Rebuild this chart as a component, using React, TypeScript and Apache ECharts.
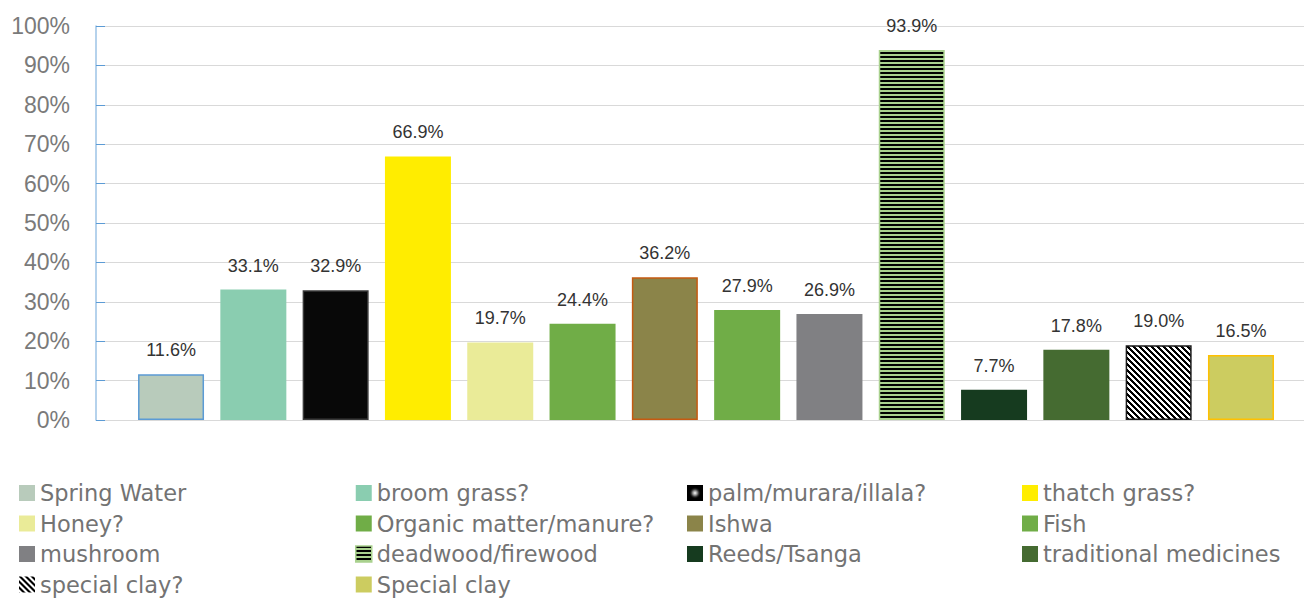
import React, { useEffect, useRef } from "react";
import * as echarts from "echarts";

const categories = [""];
const seriesNames = [
  "Spring Water",
  "broom grass?",
  "palm/murara/illala?",
  "thatch grass?",
  "Honey?",
  "Organic matter/manure?",
  "Ishwa",
  "Fish",
  "mushroom",
  "deadwood/firewood",
  "Reeds/Tsanga",
  "traditional medicines",
  "special clay?",
  "Special clay",
];
const seriesValues = [11.6, 33.1, 32.9, 66.9, 19.7, 24.4, 36.2, 27.9, 26.9, 93.9, 7.7, 17.8, 19.0, 16.5];
const fillColors = [
  "#B8CBBB", "#8ACDB0", "#080808", "#FFED00", "#EAEB98", "#70AD47", "#8B8449",
  "#70AD47", "#808083", "PATTERN_H", "#163B1F", "#456B31", "PATTERN_D", "#CCCC60",
];
const borderColors = [
  "#5B9BD5", null, "#3a3a3a", null, null, null, "#C55A11",
  null, null, "#A9D18E", null, null, "#1a1a1a", "#FFC000",
];
const yTicks = [0, 10, 20, 30, 40, 50, 60, 70, 80, 90, 100];
const legendColumns = [
  ["Spring Water", "Honey?", "mushroom", "special clay?"],
  ["broom grass?", "Organic matter/manure?", "deadwood/firewood", "Special clay"],
  ["palm/murara/illala?", "Ishwa", "Reeds/Tsanga"],
  ["thatch grass?", "Fish", "traditional medicines"],
];
const legendLefts = [19, 355, 687, 1022];

function makeHPattern(): HTMLCanvasElement {
  const c = document.createElement("canvas");
  c.width = 4;
  c.height = 4;
  const ctx = c.getContext("2d")!;
  ctx.fillStyle = "#A9D18E";
  ctx.fillRect(0, 0, 4, 4);
  ctx.fillStyle = "#000000";
  ctx.fillRect(0, 0, 4, 2);
  return c;
}

function makeDPattern(): HTMLCanvasElement {
  const n = 6;
  const c = document.createElement("canvas");
  c.width = n;
  c.height = n;
  const ctx = c.getContext("2d")!;
  ctx.fillStyle = "#ffffff";
  ctx.fillRect(0, 0, n, n);
  ctx.fillStyle = "#000000";
  for (let x = 0; x < n; x++) {
    for (let y = 0; y < n; y++) {
      if ((((x - y) % n) + n) % n < 3) ctx.fillRect(x, y, 1, 1);
    }
  }
  return c;
}

function makeGlowIcon(): string {
  const c = document.createElement("canvas");
  c.width = 32;
  c.height = 32;
  const ctx = c.getContext("2d")!;
  ctx.fillStyle = "#000";
  ctx.fillRect(0, 0, 32, 32);
  const g = ctx.createRadialGradient(16, 16, 0, 16, 16, 12);
  g.addColorStop(0, "#ffffff");
  g.addColorStop(0.45, "#777777");
  g.addColorStop(1, "rgba(0,0,0,0)");
  ctx.fillStyle = g;
  ctx.fillRect(0, 0, 32, 32);
  return c.toDataURL();
}

export default function App() {
  const ref = useRef<HTMLDivElement>(null);
  useEffect(() => {
    if (!ref.current) return;
    const chart = echarts.init(ref.current, undefined, { renderer: "svg" });
    const hPat = makeHPattern();
    const dPat = makeDPattern();
    const glow = makeGlowIcon();

    const series = seriesNames.map((name, i) => {
      let color: any = fillColors[i];
      if (color === "PATTERN_H") color = { image: hPat, repeat: "repeat" };
      if (color === "PATTERN_D") color = { image: dPat, repeat: "repeat" };
      const bc = borderColors[i];
      return {
        name,
        type: "bar",
        xAxisIndex: 1,
        yAxisIndex: 1,
        data: [seriesValues[i]],
        barWidth: 66,
        barGap: "24.7%",
        itemStyle: {
          color,
          borderColor: bc || undefined,
          borderWidth: bc ? 1.5 : 0,
        },
        label: {
          show: true,
          position: "top",
          distance: 15,
          formatter: (p: any) => p.value.toFixed(1) + "%",
          color: "#333333",
          fontSize: 18,
          fontFamily: "Liberation Sans, Arial, sans-serif",
        },
      };
    });

    const legends = legendColumns.map((col, k) => ({
      orient: "vertical",
      left: legendLefts[k],
      top: 481,
      height: 140,
      itemWidth: 16,
      itemHeight: 16,
      itemGap: 6.5,
      padding: 0,
      selectedMode: false,
      itemStyle: { borderWidth: 0 },
      textStyle: {
        color: "#737373",
        fontSize: 22.5,
        lineHeight: 24,
        fontFamily: "DejaVu Sans, sans-serif",
      },
      data: col.map((n) => {
        if (n === "palm/murara/illala?") return { name: n, icon: "image://" + glow };
        if (n === "deadwood/firewood")
          return { name: n, icon: "rect", itemStyle: { borderWidth: 1.5, borderColor: "#A9D18E" } };
        return { name: n, icon: "rect" };
      }),
    }));

    chart.setOption({
      animation: false,
      backgroundColor: "#ffffff",
      grid: [
        { left: 96, right: 0, top: 26, bottom: 178 },
        { left: 108, right: 0, top: 26, bottom: 178 },
      ],
      legend: legends,
      xAxis: [
        {
          type: "category",
          gridIndex: 0,
          data: categories,
          axisLine: { show: true, lineStyle: { color: "#d9d9d9", width: 1 } },
          axisTick: { show: false },
          axisLabel: { show: false },
        },
        {
          type: "category",
          gridIndex: 1,
          data: categories,
          show: false,
        },
      ],
      yAxis: [
        {
          type: "value",
          gridIndex: 0,
          min: yTicks[0],
          max: yTicks[yTicks.length - 1],
          interval: 10,
          axisLine: { show: true, lineStyle: { color: "#9DC3E6", width: 1.5 } },
          axisTick: { show: true, inside: true, length: 9, lineStyle: { color: "#5B9BD5", width: 1 } },
          splitLine: { show: true, lineStyle: { color: "#d9d9d9", width: 1 } },
          axisLabel: {
            formatter: (v: number) => v + "%",
            color: "#7a7a7a",
            fontSize: 23,
            margin: 26,
            fontFamily: "Liberation Sans, Arial, sans-serif",
          },
        },
        {
          type: "value",
          gridIndex: 1,
          min: yTicks[0],
          max: yTicks[yTicks.length - 1],
          interval: 10,
          show: false,
          splitLine: { show: false },
        },
      ],
      series,
    });
    return () => chart.dispose();
  }, []);
  return (
    <div
      ref={ref}
      style={{ position: "absolute", left: 0, top: 0, width: 1304, height: 598 }}
    />
  );
}
